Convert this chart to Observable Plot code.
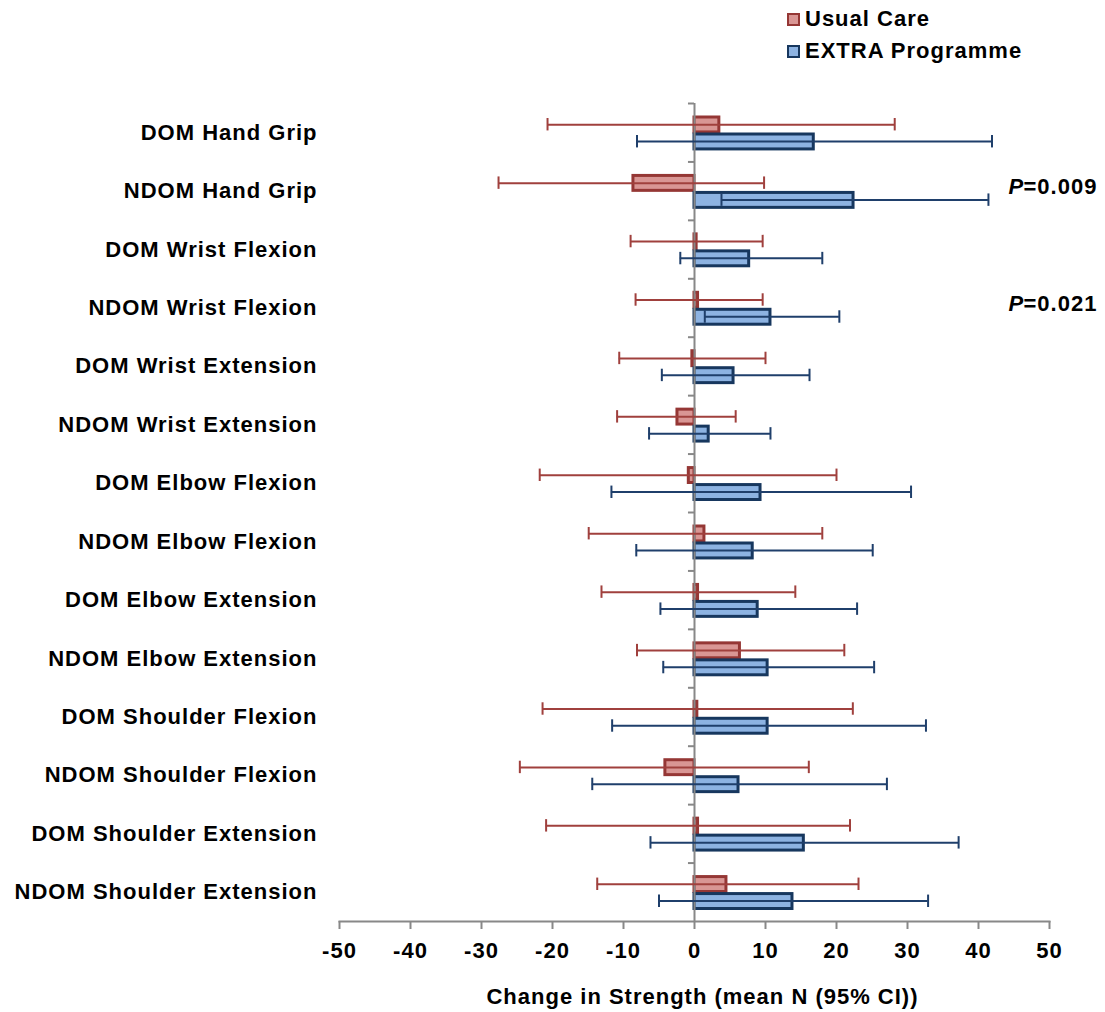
<!DOCTYPE html>
<html><head><meta charset="utf-8">
<script src="https://cdn.jsdelivr.net/npm/d3@7"></script>
<script src="https://cdn.jsdelivr.net/npm/@observablehq/plot@0.6"></script>
<style>
body{margin:0;background:#fff;font-family:"Liberation Sans",Arial,sans-serif;}
#wrap{position:relative;width:1105px;height:1012px;}
.leg{position:absolute;left:787px;font-weight:bold;font-size:22px;letter-spacing:1px;display:flex;align-items:center;white-space:nowrap;line-height:24px;height:24px;color:#000;}
.sw{width:9px;height:9px;border:2px solid;margin-right:5px;}
</style></head><body><div id="wrap"></div>
<script>
const categories = ["DOM Hand Grip","NDOM Hand Grip","DOM Wrist Flexion","NDOM Wrist Flexion","DOM Wrist Extension","NDOM Wrist Extension","DOM Elbow Flexion","NDOM Elbow Flexion","DOM Elbow Extension","NDOM Elbow Extension","DOM Shoulder Flexion","NDOM Shoulder Flexion","DOM Shoulder Extension","NDOM Shoulder Extension"];
const ucMean = [3.5, -8.6, 0.3, 0.5, -0.3, -2.4, -0.8, 1.4, 0.5, 6.4, 0.4, -4.1, 0.5, 4.5];
const ucLow  = [-20.7, -27.6, -9.0, -8.3, -10.6, -10.9, -21.8, -14.9, -13.1, -8.1, -21.4, -24.6, -20.9, -13.7];
const ucHigh = [28.2, 9.8, 9.6, 9.6, 10.0, 5.8, 20.0, 18.0, 14.2, 21.1, 22.3, 16.1, 21.9, 23.1];
const exMean = [16.8, 22.4, 7.7, 10.7, 5.5, 2.0, 9.3, 8.2, 8.9, 10.3, 10.3, 6.2, 15.4, 13.8];
const exLow  = [-8.1, 3.8, -2.0, 1.45, -4.6, -6.4, -11.7, -8.2, -4.8, -4.4, -11.6, -14.4, -6.2, -5.0];
const exHigh = [41.9, 41.4, 18.0, 20.4, 16.2, 10.7, 30.5, 25.1, 22.9, 25.3, 32.6, 27.1, 37.2, 32.9];
const xTicks = [-50,-40,-30,-20,-10,0,10,20,30,40,50];
const pCats = ["NDOM Hand Grip","NDOM Wrist Flexion"];
const pValues = ["=0.009","=0.021"];
const seriesNames = ["Usual Care","EXTRA Programme"];
const xLabel = "Change in Strength (mean N (95% CI))";

const uc = categories.map((c,i)=>({cat:c, mean:ucMean[i], lo:ucLow[i], hi:ucHigh[i]}));
const ex = categories.map((c,i)=>({cat:c, mean:exMean[i], lo:exLow[i], hi:exHigh[i]}));
const pRows = pCats.map((c,i)=>({cat:c, p:pValues[i]}));

const W=1105, H=1012, mT=103, mB=91, mL=339, mR=56;
const bw = (H-mT-mB)/categories.length;
const C = {ucFill:"#d99694", ucStroke:"#953735", ucLine:"#a0403d", exFill:"#8db3e2", exStroke:"#17375e", exLine:"#1f3f6b", axis:"#888888"};
const font = {fontSize:22, fontWeight:"bold", fill:"#000"};

const chart = Plot.plot({
  width:W, height:H, marginTop:mT, marginBottom:mB, marginLeft:mL, marginRight:mR,
  style:{fontFamily:"Liberation Sans, Arial, sans-serif", letterSpacing:"1px", background:"#fff", overflow:"visible"},
  x:{domain:[-50,50]},
  y:{type:"band", domain:categories, padding:0, round:false},
  marks:[
    Plot.barX(uc, {x1:0, x2:"mean", y:"cat", insetTop:14, insetBottom:29.5, fill:C.ucFill, stroke:C.ucStroke, strokeWidth:3}),
    Plot.barX(ex, {x1:0, x2:"mean", y:"cat", insetTop:31, insetBottom:12.5, fill:C.exFill, stroke:C.exStroke, strokeWidth:3}),
    Plot.ruleX([0], {stroke:C.axis, strokeWidth:2}),
    Plot.ruleY(categories, {y:d=>d, x1:0, x2:-0.85, dy:-bw/2, stroke:C.axis, strokeWidth:2}),
    Plot.ruleY(uc, {y:"cat", x1:"lo", x2:"hi", dy:-8, stroke:C.ucLine, strokeWidth:2}),
    Plot.ruleY(ex, {y:"cat", x1:"lo", x2:"hi", dy:8.8, stroke:C.exLine, strokeWidth:2}),
    Plot.tickX(uc, {x:"lo", y:"cat", insetTop:15, insetBottom:31, stroke:C.ucLine, strokeWidth:2}),
    Plot.tickX(uc, {x:"hi", y:"cat", insetTop:15, insetBottom:31, stroke:C.ucLine, strokeWidth:2}),
    Plot.tickX(ex, {x:"lo", y:"cat", insetTop:32, insetBottom:14, stroke:C.exLine, strokeWidth:2}),
    Plot.tickX(ex, {x:"hi", y:"cat", insetTop:32, insetBottom:14, stroke:C.exLine, strokeWidth:2}),
    Plot.frame({anchor:"bottom", stroke:C.axis, strokeWidth:2}),
    Plot.axisX({ticks:xTicks, tickFormat:d=>String(d), tickSize:8, tickPadding:13, stroke:C.axis, strokeWidth:2, label:null, ...font}),
    Plot.axisY({tickSize:0, tickPadding:22, label:null, ...font}),
    Plot.text(pRows, {y:"cat", frameAnchor:"right", text:()=>"P", dx:-41, dy:-4, textAnchor:"start", fontStyle:"italic", ...font}),
    Plot.text(pRows, {y:"cat", frameAnchor:"right", text:"p", dx:-26, dy:-4, textAnchor:"start", ...font}),
    Plot.text([xLabel], {text:d=>d, frameAnchor:"bottom", dy:75, dx:8, lineAnchor:"middle", ...font})
  ]
});
const wrap = document.getElementById("wrap");
wrap.appendChild(chart);
const legCols = [[C.ucFill,C.ucStroke],[C.exFill,C.exStroke]];
seriesNames.forEach((n,i)=>{
  const d = document.createElement("div");
  d.className="leg"; d.style.top = (7+32*i)+"px";
  const s = document.createElement("span"); s.className="sw";
  s.style.background = legCols[i][0]; s.style.borderColor = legCols[i][1];
  d.appendChild(s); d.appendChild(document.createTextNode(n));
  wrap.appendChild(d);
});
</script></body></html>
